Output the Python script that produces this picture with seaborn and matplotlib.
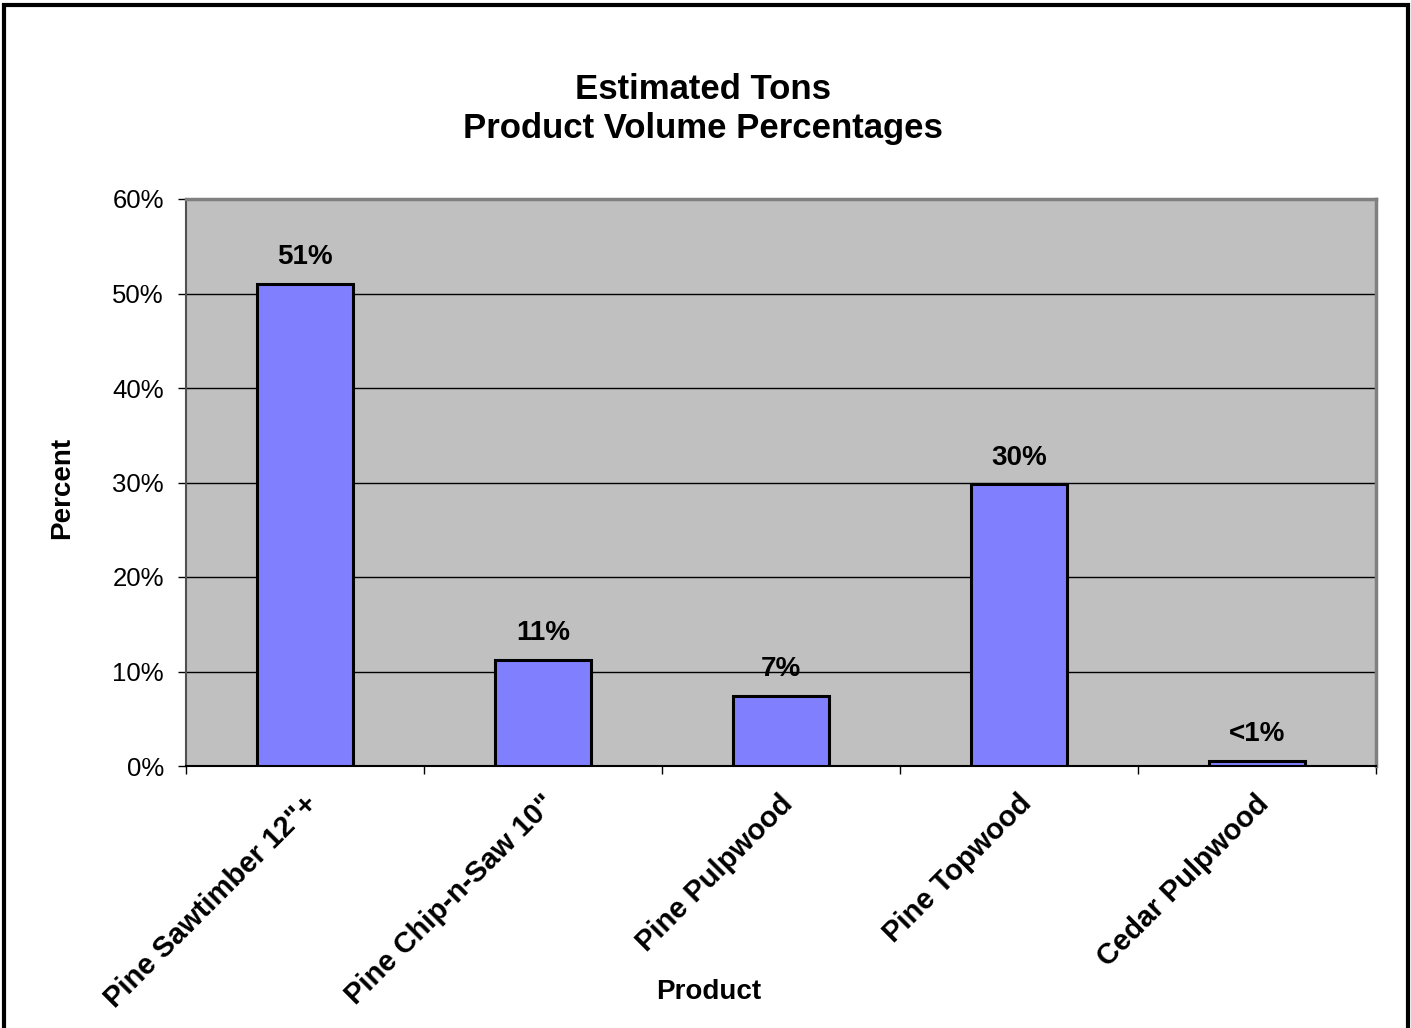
import matplotlib
matplotlib.use("Agg")
import matplotlib.pyplot as plt
import matplotlib.transforms as mtransforms
from matplotlib.patches import Rectangle
import seaborn as sns
import pandas as pd

# --- Data ---
products = ['Pine Sawtimber 12"+', 'Pine Chip-n-Saw 10"', 'Pine Pulpwood',
            'Pine Topwood', 'Cedar Pulpwood']
percent = [51.0, 11.2, 7.4, 29.8, 0.5]
bar_labels = ['51%', '11%', '7%', '30%', '<1%']
y_ticks = [0, 10, 20, 30, 40, 50, 60]

df = pd.DataFrame({'product': products, 'percent': percent})

# --- Style ---
sns.set_style('white')
plt.rcParams['font.family'] = ['Liberation Sans', 'DejaVu Sans']
plt.rcParams['text.color'] = 'black'
plt.rcParams['axes.labelcolor'] = 'black'
plt.rcParams['xtick.color'] = 'black'
plt.rcParams['ytick.color'] = 'black'

W, H = 1411, 1028
fig = plt.figure(figsize=(W / 100, H / 100), dpi=100)
ax = fig.add_axes([186 / W, 1 - 766 / H, 1190 / W, 567 / H])
ax.set_facecolor('#C0C0C0')

sns.barplot(data=df, x='product', y='percent', color='#8080FF', saturation=1,
            width=0.4, edgecolor='black', linewidth=2.2, ax=ax, zorder=3)

ax.set_xlim(-0.5, len(products) - 0.5)
ax.set_ylim(0, 60)
ax.set_yticks(y_ticks)
ax.set_yticklabels([f'{v}%' for v in y_ticks], fontsize=18.5, color='black')
ax.yaxis.grid(True, color='black', linewidth=1, zorder=1)
ax.xaxis.grid(False)
ax.set_axisbelow(True)
ax.tick_params(axis='y', direction='out', length=6, width=1, color='black', pad=10, left=True)

# tick marks between categories, labels at centres
ax.set_xticks([i - 0.5 for i in range(len(products) + 1)], minor=True)
ax.tick_params(axis='x', which='minor', direction='out', length=6, width=1,
               color='black', bottom=True)
ax.tick_params(axis='x', which='major', length=0, pad=24)
ax.set_xticks(range(len(products)))
ax.set_xticklabels(products, rotation=45, ha='right', va='center',
                   rotation_mode='anchor', fontsize=21, fontweight='heavy',
                   color='black')
shift = mtransforms.ScaledTranslation(0.08, 0, fig.dpi_scale_trans)
for lbl in ax.get_xticklabels():
    lbl.set_transform(lbl.get_transform() + shift)

ax.set_xlabel('')
ax.set_ylabel('')

for side in ['top', 'right']:
    ax.spines[side].set_color('#808080')
    ax.spines[side].set_linewidth(2.5)
ax.spines['left'].set_color('#505050')
ax.spines['left'].set_linewidth(1.5)
ax.spines['bottom'].set_color('black')
ax.spines['bottom'].set_linewidth(1.5)

ax.bar_label(ax.containers[0], labels=bar_labels, padding=10,
             fontsize=20, fontweight='bold', color='black')

# --- Titles ---
fig.text(703 / W, 1 - 109 / H, 'Estimated Tons\nProduct Volume Percentages',
         ha='center', va='center', fontsize=25, fontweight='bold', linespacing=1.25)
fig.text(62 / W, 1 - 488 / H, 'Percent', rotation=90, ha='center', va='center',
         fontsize=20, fontweight='bold')
fig.text(709 / W, 1 - 992 / H, 'Product', ha='center', va='center',
         fontsize=20, fontweight='bold')

# outer frame
fig.patches.append(Rectangle((4 / W, -0.02), 1404 / W, 1.02 - 5 / H, fill=False,
                             edgecolor='black', linewidth=3,
                             transform=fig.transFigure, figure=fig))

fig.savefig('out.png', dpi=100)
